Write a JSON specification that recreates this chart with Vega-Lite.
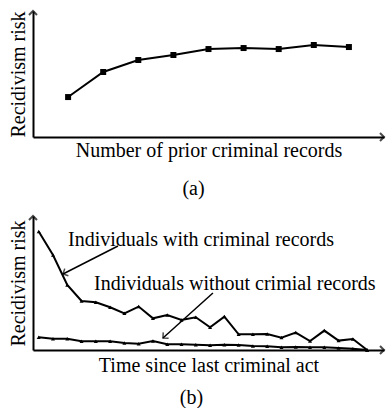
{
  "$schema": "https://vega.github.io/schema/vega-lite/v6.json",
  "autosize": "pad",
  "padding": {"left": 7, "top": 7, "right": 0, "bottom": 0},
  "background": "white",
  "spacing": 13,
  "config": {
    "view": {"stroke": null},
    "font": "Liberation Serif",
    "axis": {
      "domainColor": "black",
      "domainWidth": 2,
      "ticks": false,
      "labels": false,
      "grid": false,
      "titleFont": "Liberation Serif",
      "titleFontSize": 20,
      "titleFontWeight": "normal",
      "titleColor": "black"
    },
    "title": {"font": "Liberation Serif", "fontSize": 20, "fontWeight": "normal", "color": "black"}
  },
  "datasets": {
    "a": [
      {"records": 1, "risk": 3.17},
      {"records": 2, "risk": 5.16},
      {"records": 3, "risk": 6.11},
      {"records": 4, "risk": 6.51},
      {"records": 5, "risk": 6.98},
      {"records": 6, "risk": 7.06},
      {"records": 7, "risk": 6.98},
      {"records": 8, "risk": 7.3},
      {"records": 9, "risk": 7.14}
    ],
    "b": [
      {"t": 1, "with": 118.4, "without": 12.7},
      {"t": 2, "with": 95, "without": 11.3},
      {"t": 3, "with": 65, "without": 11.3},
      {"t": 4, "with": 49, "without": 8.7},
      {"t": 5, "with": 47.7, "without": 8.7},
      {"t": 6, "with": 42.7, "without": 8.7},
      {"t": 7, "with": 36.7, "without": 7},
      {"t": 8, "with": 43.4, "without": 6.3},
      {"t": 9, "with": 31.7, "without": 9},
      {"t": 10, "with": 35, "without": 5.7},
      {"t": 11, "with": 30, "without": 5.7},
      {"t": 12, "with": 32.7, "without": 5.3},
      {"t": 13, "with": 22.7, "without": 4.7},
      {"t": 14, "with": 33.4, "without": 5.3},
      {"t": 15, "with": 15.7, "without": 5},
      {"t": 16, "with": 15.7, "without": 4},
      {"t": 17, "with": 16, "without": 3.7},
      {"t": 18, "with": 12.4, "without": 2.7},
      {"t": 19, "with": 17.4, "without": 3},
      {"t": 20, "with": 9, "without": 2.7},
      {"t": 21, "with": 19.4, "without": 2.7},
      {"t": 22, "with": 9.4, "without": 2},
      {"t": 23, "with": 11, "without": 1.3},
      {"t": 24, "with": 0, "without": 0}
    ]
  },
  "vconcat": [
    {
      "width": 351,
      "height": 126,
      "title": {"text": "(a)", "orient": "bottom", "offset": 19, "dx": -15},
      "encoding": {
        "x": {"field": "records", "type": "quantitative", "scale": {"domain": [0, 10], "nice": false, "zero": false}, "axis": {"title": "Number of prior criminal records", "titlePadding": 3}},
        "y": {"field": "risk", "type": "quantitative", "scale": {"domain": [0, 10], "nice": false}, "axis": {"title": "Recidivism risk", "titlePadding": 5}}
      },
      "layer": [
        {
          "data": {"name": "a"},
          "mark": {"type": "line", "color": "black", "strokeWidth": 2, "point": {"shape": "square", "size": 36, "filled": true, "color": "black"}}
        },
        {
          "data": {"values": [{"records": 0, "risk": 10}]},
          "mark": {"type": "point", "shape": "M-1,1L0,0L1,1", "size": 64, "filled": false, "stroke": "black", "strokeWidth": 2, "clip": false}
        },
        {
          "data": {"values": [{"records": 10, "risk": 0}]},
          "mark": {"type": "point", "shape": "M-1,-1L0,0L-1,1", "size": 64, "filled": false, "stroke": "black", "strokeWidth": 2, "clip": false}
        }
      ]
    },
    {
      "width": 351,
      "height": 134,
      "title": {"text": "(b)", "orient": "bottom", "offset": 13, "dx": -17},
      "layer": [
        {
          "data": {"name": "b"},
          "transform": [{"fold": ["with", "without"], "as": ["group", "risk"]}],
          "mark": {"type": "line", "color": "black", "strokeWidth": 2, "point": {"shape": "triangle-up", "size": 16, "filled": true, "color": "black"}},
          "encoding": {
            "x": {"field": "t", "type": "quantitative", "scale": {"domain": [0.6, 25.18], "nice": false, "zero": false}, "axis": {"title": "Time since last criminal act", "titlePadding": 5}},
            "y": {"field": "risk", "type": "quantitative", "scale": {"domain": [0, 134], "nice": false}, "axis": {"title": "Recidivism risk", "titlePadding": 5}},
            "detail": {"field": "group"}
          }
        },
        {
          "data": {"values": [{"t": 0.6, "risk": 134}]},
          "mark": {"type": "point", "shape": "M-1,1L0,0L1,1", "size": 64, "filled": false, "stroke": "black", "strokeWidth": 2, "clip": false},
          "encoding": {"x": {"field": "t", "type": "quantitative"}, "y": {"field": "risk", "type": "quantitative"}}
        },
        {
          "data": {"values": [{"t": 25.18, "risk": 0}]},
          "mark": {"type": "point", "shape": "M-1,-1L0,0L-1,1", "size": 64, "filled": false, "stroke": "black", "strokeWidth": 2, "clip": false},
          "encoding": {"x": {"field": "t", "type": "quantitative"}, "y": {"field": "risk", "type": "quantitative"}}
        },
        {
          "data": {"values": [
            {"label": "Individuals with criminal records", "t": 3.05, "risk": 110},
            {"label": "Individuals without crimial records", "t": 4.87, "risk": 66}
          ]},
          "mark": {"type": "text", "align": "left", "baseline": "middle", "fontSize": 20, "font": "Liberation Serif", "color": "black"},
          "encoding": {"x": {"field": "t", "type": "quantitative"}, "y": {"field": "risk", "type": "quantitative"}, "text": {"field": "label"}}
        },
        {
          "data": {"values": [
            {"t": 6.55, "risk": 104, "t2": 2.7, "risk2": 76},
            {"t": 13.2, "risk": 57, "t2": 9.7, "risk2": 12}
          ]},
          "mark": {"type": "rule", "color": "black", "strokeWidth": 1.5},
          "encoding": {"x": {"field": "t", "type": "quantitative"}, "y": {"field": "risk", "type": "quantitative"}, "x2": {"field": "t2"}, "y2": {"field": "risk2"}}
        },
        {
          "data": {"values": [{"t": 2.7, "risk": 76}]},
          "mark": {"type": "point", "shape": "M-1,1L0,0L1,1", "size": 64, "angle": 243, "filled": false, "stroke": "black", "strokeWidth": 1.5},
          "encoding": {"x": {"field": "t", "type": "quantitative"}, "y": {"field": "risk", "type": "quantitative"}}
        },
        {
          "data": {"values": [{"t": 9.7, "risk": 12}]},
          "mark": {"type": "point", "shape": "M-1,1L0,0L1,1", "size": 64, "angle": 228, "filled": false, "stroke": "black", "strokeWidth": 1.5},
          "encoding": {"x": {"field": "t", "type": "quantitative"}, "y": {"field": "risk", "type": "quantitative"}}
        }
      ]
    }
  ]
}
